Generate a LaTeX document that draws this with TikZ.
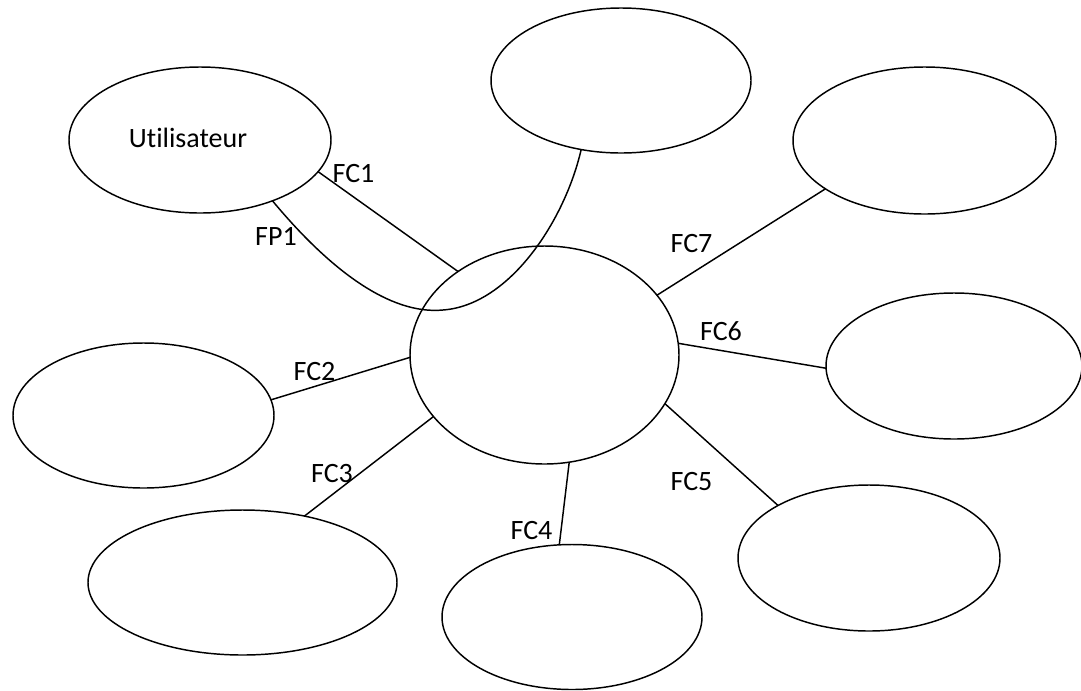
\documentclass[tikz,border=0pt]{standalone}
\usepackage{fontspec}
\setmainfont{Carlito}[Ligatures={NoCommon}]
\usetikzlibrary{shapes.geometric}
\begin{document}
\begin{tikzpicture}[x=0.75pt,y=-0.75pt,
  blob/.style={draw, ellipse, line width=1.1pt, inner sep=0pt, outer sep=0pt},
  link/.style={line width=1.1pt},
  lbl/.style={anchor=base, inner sep=0pt, outer sep=0pt, font=\fontsize{21pt}{25pt}\selectfont}]
\useasboundingbox (0,0) rectangle (1081,690);
% ellipses
\node[blob, minimum width=196.5pt, minimum height=109.5pt] (U) at (200,140) {};
\node[blob, minimum width=195pt, minimum height=108.75pt] (T) at (621,80.5) {};
\node[blob, minimum width=197.25pt, minimum height=110.25pt] (TR) at (924.5,140.5) {};
\node[blob, minimum width=192pt, minimum height=109.5pt] (R) at (954,366) {};
\node[blob, minimum width=196.5pt, minimum height=109.5pt] (BR) at (869,558) {};
\node[blob, minimum width=195pt, minimum height=108.75pt] (B) at (572,617) {};
\node[blob, minimum width=231.75pt, minimum height=108.75pt] (BL) at (242.5,582.5) {};
\node[blob, minimum width=195.75pt, minimum height=108.75pt] (L) at (143.5,415.5) {};
\node[blob, minimum width=201.75pt, minimum height=163.5pt] (C) at (544.5,355) {};
% text in the user ellipse
\node[lbl] (ut) at (188,147) {Utilisateur};
% connectors
\coordinate (fp) at (443,310);
\draw[link] (U.-40) .. controls (330,270) and (390,315) .. (fp)
            .. controls (510,305) and (565,220) .. (T.-120);
\draw[link] (U.-15.6) -- (C.136.5);
\draw[link] (C.28) -- (TR.206);
\draw[link] (C.5.5) -- (R.181.3);
\draw[link] (C.-22.7) -- (BR.150.7);
\draw[link] (C.-77.7) -- (B.100.4);
\draw[link] (C.209) -- (BL.47);
\draw[link] (C.181.7) -- (L.7.3);
% labels
\node[lbl] (l1) at (353.5,182) {FC1};
\node[lbl] (lp) at (276,245) {FP1};
\node[lbl] (l7) at (691.5,252) {FC7};
\node[lbl] (l6) at (721,340) {FC6};
\node[lbl] (l2) at (314.5,380) {FC2};
\node[lbl] (l3) at (332,482) {FC3};
\node[lbl] (l5) at (691.5,490) {FC5};
\node[lbl] (l4) at (531.5,539) {FC4};
\end{tikzpicture}
\end{document}
